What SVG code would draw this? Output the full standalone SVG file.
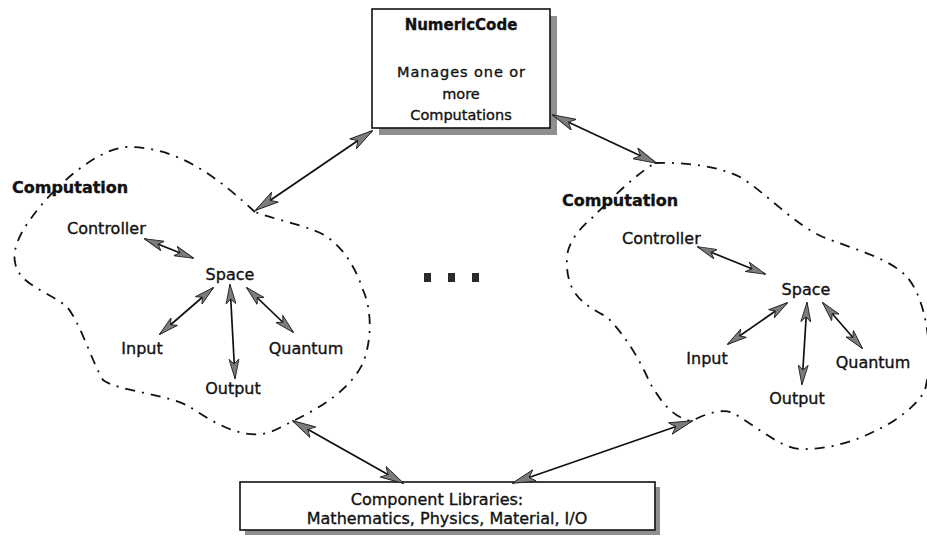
<svg xmlns="http://www.w3.org/2000/svg" width="927" height="544" viewBox="0 0 927 544">
<style>
  text { font-family: "DejaVu Sans", "Liberation Sans", sans-serif; fill: #111; stroke: #111; stroke-width: 0.35; }
  .lbl { font-size: 16px; }
  .bold { font-weight: bold; }
  .box { fill: #fff; stroke: #111; stroke-width: 1.6; }
  .shadow { fill: #8f8f8f; }
  .cloud { fill: none; stroke: #111; stroke-width: 1.8; stroke-dasharray: 10 7 2 7; }
  .conn { fill: none; stroke: #111; stroke-width: 1.8; marker-start: url(#ah); marker-end: url(#ah); }
  .conn-s { fill: none; stroke: #111; stroke-width: 1.7; marker-start: url(#ahs); marker-end: url(#ahs); }
</style>
<defs>
  <marker id="ah" viewBox="0 0 24 13" refX="23" refY="6.5" markerWidth="24" markerHeight="13" markerUnits="userSpaceOnUse" orient="auto-start-reverse">
    <path d="M24,6.5 L0,0.5 L6,6.5 L0,12.5 Z" fill="#7c7c7c" stroke="#222" stroke-width="0.9"/>
  </marker>
  <marker id="ahs" viewBox="0 0 20 11" refX="19" refY="5.5" markerWidth="20" markerHeight="11" markerUnits="userSpaceOnUse" orient="auto-start-reverse">
    <path d="M20,5.5 L0,0.5 L5,5.5 L0,10.5 Z" fill="#7c7c7c" stroke="#222" stroke-width="0.9"/>
  </marker>
</defs>

<g id="cloud-left">
  <path class="cloud" d="M255,212 C225,185 185,148 130,147 C100,146 55,185 32,217 C22,230 12,248 15,262 C18,285 50,292 67,307 C80,322 92,362 103,380 C120,392 165,393 190,407 C210,420 240,440 267,433 C277,430 285,425 293,421 C320,408 350,390 363,363 C372,340 372,310 363,290 C355,265 338,238 313,230 C295,223 270,218 255,212 Z"/>
  <text class="lbl bold" x="12" y="193" font-size="15.5">Computation</text>
</g>
<g id="cloud-right">
  <path class="cloud" d="M655,163 C685,162 718,166 740,177 C765,192 795,225 823,237 C850,248 890,258 907,277 C925,297 935,350 925,390 C918,405 895,422 877,430 C858,440 830,450 800,449 C780,448 755,425 733,413 C722,408 705,414 692,421 C672,418 660,400 650,383 C640,360 625,335 607,317 C585,305 565,295 567,257 C568,242 580,228 593,217 C610,200 635,175 655,163 Z"/>
  <text class="lbl bold" x="562" y="206" font-size="15.5">Computation</text>
</g>

<g id="numericcode">
  <rect class="shadow" x="379" y="16" width="178" height="119"/>
  <rect class="box" x="372" y="9" width="178" height="119"/>
  <text class="bold" x="461" y="30" font-size="15" text-anchor="middle">NumericCode</text>
  <text x="461" y="77" font-size="14.5" text-anchor="middle" textLength="128">Manages one or</text>
  <text x="461" y="99" font-size="14.5" text-anchor="middle">more</text>
  <text x="461" y="120" font-size="14.5" text-anchor="middle">Computations</text>
</g>

<g id="component-libraries">
  <rect class="shadow" x="245" y="487" width="415" height="48"/>
  <rect class="box" x="240" y="482" width="415" height="48"/>
  <text class="lbl" x="437" y="505" text-anchor="middle">Component Libraries:</text>
  <text class="lbl" x="447" y="524" text-anchor="middle">Mathematics, Physics, Material, I/O</text>
</g>

<g id="left-controller"><text class="lbl" x="67" y="234">Controller</text></g>
<g id="left-space"><text class="lbl" x="230" y="280" text-anchor="middle">Space</text></g>
<g id="left-input"><text class="lbl" x="142" y="354" text-anchor="middle">Input</text></g>
<g id="left-quantum"><text class="lbl" x="306" y="354" text-anchor="middle">Quantum</text></g>
<g id="left-output"><text class="lbl" x="233" y="394" text-anchor="middle">Output</text></g>

<g id="right-controller"><text class="lbl" x="622" y="244">Controller</text></g>
<g id="right-space"><text class="lbl" x="806" y="295" text-anchor="middle">Space</text></g>
<g id="right-input"><text class="lbl" x="707" y="364" text-anchor="middle">Input</text></g>
<g id="right-quantum"><text class="lbl" x="873" y="368" text-anchor="middle">Quantum</text></g>
<g id="right-output"><text class="lbl" x="797" y="404" text-anchor="middle">Output</text></g>

<g id="ellipsis" fill="#2a2a2a">
  <rect x="424" y="273" width="7" height="9"/>
  <rect x="448" y="273" width="7" height="9"/>
  <rect x="472" y="273" width="7" height="9"/>
</g>

<g id="connectors">
  <line class="conn" x1="372" y1="131" x2="256" y2="210"/>
  <line class="conn" x1="553" y1="115" x2="656" y2="163"/>
  <line class="conn" x1="293" y1="421" x2="403" y2="483"/>
  <line class="conn" x1="513" y1="483" x2="692" y2="421"/>

  <line class="conn-s" x1="145" y1="239" x2="193" y2="258"/>
  <line class="conn-s" x1="213" y1="288" x2="160" y2="334"/>
  <line class="conn-s" x1="230" y1="285" x2="235" y2="378"/>
  <line class="conn-s" x1="247" y1="288" x2="293" y2="332"/>

  <line class="conn-s" x1="698" y1="247" x2="765" y2="274"/>
  <line class="conn-s" x1="787" y1="303" x2="728" y2="344"/>
  <line class="conn-s" x1="807" y1="303" x2="802" y2="384"/>
  <line class="conn-s" x1="823" y1="303" x2="862" y2="348"/>
</g>
</svg>
